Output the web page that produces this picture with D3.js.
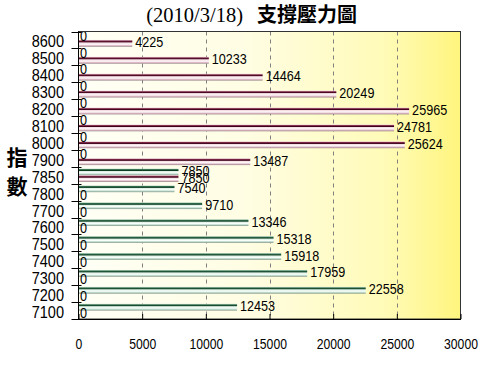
<!DOCTYPE html>
<html>
<head>
<meta charset="utf-8">
<script src="https://cdn.jsdelivr.net/npm/d3@7"></script>
<style>
  body { margin: 0; background: #fff; }
  .num { font-family: "Liberation Sans", sans-serif; fill: #000; }
</style>
</head>
<body>
<svg id="chart" width="498" height="367"></svg>
<script>
// strike prices, top to bottom
var categories = ["8600", "8500", "8400", "8300", "8200", "8100", "8000", "7900", "7850",
                  "7800", "7700", "7600", "7500", "7400", "7300", "7200", "7100"];
// support (put side, green) and pressure (call side, red)
var supportValues = [0, 0, 0, 0, 0, 0, 0, 0, 7850, 7540, 9710, 13346, 15318, 15918, 17959, 22558, 12453];
var pressureValues = [4225, 10233, 14464, 20249, 25965, 24781, 25624, 13487, 7850, 0, 0, 0, 0, 0, 0, 0, 0];
var xTicks = [0, 5000, 10000, 15000, 20000, 25000, 30000];

var svg = d3.select("#chart");
var pLeft = 78.5, pRight = 460.5, pTop = 31.5, pBottom = 319;
var squeeze = "scale(0.87,1)"; // narrow digits like the original font

var x = d3.scaleLinear().domain([0, 30000]).range([pLeft, pRight]);
var y = d3.scaleBand().domain(categories).range([pTop, pBottom]);
var sub = d3.scaleBand().domain(["support", "pressure"]).range([0, y.bandwidth()]).paddingOuter(0.25);

var defs = svg.append("defs");
var bg = defs.append("linearGradient").attr("id", "bg");
[["0%", "#fffff6"], ["45%", "#fffde2"], ["80%", "#fffbb8"], ["100%", "#fff57e"]].forEach(function(s) {
  bg.append("stop").attr("offset", s[0]).attr("stop-color", s[1]);
});

var pipe = function(id, cols) {
  var g = defs.append("linearGradient").attr("id", id)
    .attr("x1", 0).attr("y1", 0).attr("x2", 0).attr("y2", 1);
  var offs = ["0%", "16%", "30%", "42%", "65%", "85%", "100%"];
  cols.forEach(function(c, i) { g.append("stop").attr("offset", offs[i]).attr("stop-color", c); });
};
pipe("red", ["#ecd2da", "#7a2443", "#3d0018", "#f2dde3", "#fff8fa", "#d8b3c0", "#8f7c84"]);
pipe("green", ["#d3e8dc", "#2f6c4a", "#0f3d22", "#dcefe5", "#f8fffb", "#b3d2c2", "#7e8f86"]);

// plot background
svg.append("rect").attr("x", pLeft).attr("y", pTop)
  .attr("width", pRight - pLeft).attr("height", pBottom - pTop)
  .attr("fill", "url(#bg)");

// dashed grid
svg.append("g").selectAll("line").data(xTicks.slice(1, -1)).enter().append("line")
  .attr("x1", function(d) { return Math.round(x(d)) + 0.5; })
  .attr("x2", function(d) { return Math.round(x(d)) + 0.5; })
  .attr("y1", pTop).attr("y2", pBottom)
  .attr("stroke", "#808080").attr("stroke-dasharray", "4,4");

// bars
var rows = categories.map(function(c, i) {
  return {cat: c, support: supportValues[i], pressure: pressureValues[i]};
});
var series = [["support", "green"], ["pressure", "red"]];
series.forEach(function(s) {
  svg.append("g").selectAll("rect").data(rows).enter().append("rect")
    .attr("x", x(0))
    .attr("y", function(d) { return y(d.cat) + sub(s[0]); })
    .attr("width", function(d) { return x(d[s[0]]) - x(0); })
    .attr("height", sub.bandwidth())
    .attr("fill", "url(#" + s[1] + ")");
});

// value labels
series.forEach(function(s) {
  svg.append("g").selectAll("g").data(rows).enter().append("g")
    .attr("transform", function(d) {
      var lx = x(d[s[0]]) + (d[s[0]] ? 3 : 1.5);
      var ly = y(d.cat) + sub(s[0]) + sub.bandwidth() / 2 - 1;
      return "translate(" + lx + "," + ly + ")";
    })
    .append("text")
    .attr("class", "num")
    .attr("transform", squeeze)
    .attr("dy", "0.35em")
    .style("font-size", "14.5px")
    .text(function(d) { return d[s[0]]; });
});

// frame
svg.append("rect").attr("x", pLeft).attr("y", pTop)
  .attr("width", pRight - pLeft).attr("height", pBottom - pTop)
  .attr("fill", "none").attr("stroke", "#333");

// x axis
var xAxis = d3.axisBottom(x).tickValues(xTicks).tickSizeInner(-5).tickSizeOuter(0).tickPadding(20)
  .tickFormat(d3.format("d"));
var gx = svg.append("g").attr("transform", "translate(0," + pBottom + ")").call(xAxis);
gx.attr("font-family", null).attr("font-size", null);
gx.select(".domain").attr("stroke", "#000");
gx.selectAll("text").attr("class", "num").style("font-size", "14px").attr("transform", squeeze);

// y axis: labels from the band scale, ticks at band edges
var yAxis = d3.axisLeft(y).tickSize(0).tickPadding(16.5);
var gy = svg.append("g").attr("transform", "translate(" + pLeft + ",0)").call(yAxis);
gy.attr("font-family", null).attr("font-size", null);
gy.select(".domain").remove();
gy.selectAll("text").attr("class", "num").style("font-size", "16.5px").attr("dy", "0.45em")
  .attr("transform", "scale(0.88,1)");
svg.append("line").attr("x1", pLeft).attr("x2", pLeft).attr("y1", pTop).attr("y2", pBottom).attr("stroke", "#000");
svg.append("g").selectAll("line").data(categories.map(function(c) { return y(c); }).concat([pBottom]))
  .enter().append("line")
  .attr("x1", pLeft - 7).attr("x2", pLeft + 3)
  .attr("y1", function(d) { return Math.round(d) + 0.5; })
  .attr("y2", function(d) { return Math.round(d) + 0.5; })
  .attr("stroke", "#000");

// titles
svg.append("text").attr("x", 243).attr("y", 21.5).attr("text-anchor", "end")
  .attr("font-family", "Liberation Serif, serif").attr("font-size", "20.5px")
  .text("(2010/3/18)");
svg.append("text").attr("x", 257).attr("y", 22).attr("text-anchor", "start")
  .attr("font-family", "Noto Sans CJK TC, sans-serif").attr("font-weight", "bold").attr("font-size", "20px")
  .text("支撐壓力圖");
svg.append("text").attr("x", 17).attr("y", 165).attr("text-anchor", "middle")
  .attr("font-family", "Noto Sans CJK TC, sans-serif").attr("font-weight", "bold").attr("font-size", "21px")
  .text("指");
svg.append("text").attr("x", 17).attr("y", 194).attr("text-anchor", "middle")
  .attr("font-family", "Noto Sans CJK TC, sans-serif").attr("font-weight", "bold").attr("font-size", "21px")
  .text("數");
</script>
</body>
</html>
